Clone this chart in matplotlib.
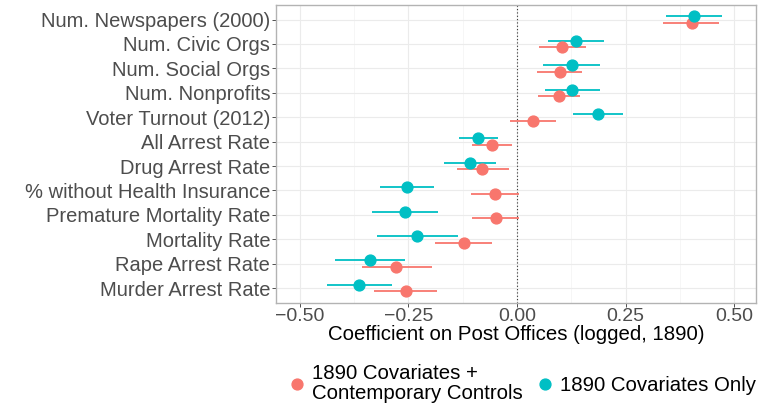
import numpy as np
import matplotlib.pyplot as plt
from matplotlib.lines import Line2D

plt.rcParams['font.family'] = ['Liberation Sans', 'DejaVu Sans']

# outcomes, top to bottom as drawn
outcomes = ["Num. Newspapers (2000)", "Num. Civic Orgs", "Num. Social Orgs",
            "Num. Nonprofits", "Voter Turnout (2012)", "All Arrest Rate",
            "Drug Arrest Rate", "% without Health Insurance", "Premature Mortality Rate",
            "Mortality Rate", "Rape Arrest Rate", "Murder Arrest Rate"]

# 1890 Covariates + Contemporary Controls
ctrl_est = [0.402, 0.104, 0.098, 0.097, 0.037, -0.058, -0.080, -0.050, -0.049, -0.123, -0.278, -0.256]
ctrl_lo = [0.337, 0.051, 0.045, 0.049, -0.015, -0.104, -0.139, -0.106, -0.103, -0.189, -0.357, -0.328]
ctrl_hi = [0.466, 0.158, 0.150, 0.144, 0.090, -0.012, -0.018, 0.005, 0.005, -0.057, -0.196, -0.185]

# 1890 Covariates Only
only_est = [0.407, 0.135, 0.126, 0.127, 0.186, -0.089, -0.109, -0.254, -0.258, -0.230, -0.338, -0.363]
only_lo = [0.343, 0.071, 0.061, 0.064, 0.129, -0.133, -0.168, -0.316, -0.334, -0.323, -0.418, -0.438]
only_hi = [0.472, 0.200, 0.192, 0.191, 0.245, -0.043, -0.049, -0.190, -0.181, -0.136, -0.257, -0.287]

red = "#F8766D"
teal = "#00BFC4"

n = len(outcomes)
y = np.arange(n, 0, -1)
dodge = 0.135

fig = plt.figure(figsize=(7.62, 4.11), dpi=100)
ax = fig.add_axes([0.362, 0.2635, 0.630, 0.7245])

ax.hlines(y - dodge, ctrl_lo, ctrl_hi, color=red, lw=1.3, zorder=3)
ax.plot(ctrl_est, y - dodge, 'o', color=red, ms=7.8, zorder=4)
ax.hlines(y + dodge, only_lo, only_hi, color=teal, lw=1.3, zorder=3)
ax.plot(only_est, y + dodge, 'o', color=teal, ms=7.8, zorder=4)

ax.axvline(0, color="#333333", ls=(0, (1, 2)), lw=0.8, zorder=2)

ax.set_xlim(-0.555, 0.55)
ax.set_ylim(0.4, n + 0.6)
ax.set_xticks([-0.5, -0.25, 0, 0.25, 0.5])
ax.set_xticklabels(["\u22120.50", "\u22120.25", "0.00", "0.25", "0.50"])
ax.set_xticks([-0.375, -0.125, 0.125, 0.375], minor=True)
ax.set_yticks(y)
ax.set_yticklabels(outcomes)

ax.grid(True, which='major', color="#EBEBEB", lw=0.8, zorder=0)
ax.grid(True, which='minor', axis='x', color="#F3F3F3", lw=0.5, zorder=0)
ax.set_axisbelow(True)
for s in ax.spines.values():
    s.set_color("#B3B3B3")
    s.set_linewidth(1.0)
ax.tick_params(axis='both', which='major', labelcolor="#4D4D4D",
               color="#333333", length=3, width=0.6, pad=1)
ax.tick_params(axis='y', which='major', labelsize=14.5)
ax.tick_params(axis='x', which='major', labelsize=14)
ax.tick_params(axis='x', which='minor', length=0)

ax.set_xlabel("Coefficient on Post Offices (logged, 1890)", fontsize=14.7, labelpad=0)

handles = [Line2D([], [], ls='', marker='o', color=red, ms=7.8),
           Line2D([], [], ls='', marker='o', color=teal, ms=7.8)]
leg = fig.legend(handles, ["1890 Covariates +\nContemporary Controls", "1890 Covariates Only"],
                 loc='lower center', bbox_to_anchor=(0.683, -0.025), ncol=2, frameon=False,
                 fontsize=14.7, handletextpad=0.15, columnspacing=0.5, handlelength=1.2,
                 labelspacing=0.2)
for t in leg.get_texts():
    t.set_linespacing(1.05)

fig.savefig("out.png", dpi=100)
